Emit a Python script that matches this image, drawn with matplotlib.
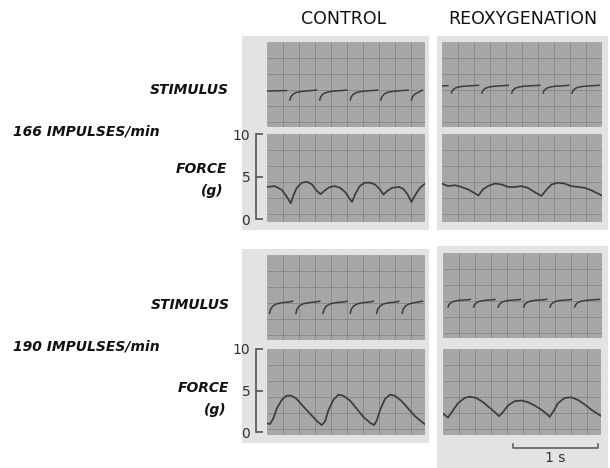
import matplotlib
matplotlib.use("Agg")
import matplotlib.pyplot as plt
import matplotlib.transforms as mtransforms
from matplotlib.patches import Rectangle
from matplotlib.collections import LineCollection

# ---------------- data ----------------
COLUMNS = ["CONTROL", "REOXYGENATION"]
RATES = ["166 IMPULSES/min", "190 IMPULSES/min"]
FORCE_TICKS = [0, 5, 10]
FORCE_TICK_LABELS = ["0", "5", "10"]

# force traces: time (s) and force (g)
F166_CTRL_T = [0.00, 0.09, 0.17, 0.23, 0.28, 0.31, 0.35, 0.41, 0.47, 0.53, 0.58, 0.63,
               0.68, 0.74, 0.80, 0.86, 0.92, 0.96, 1.00, 1.04, 1.09, 1.15, 1.21, 1.27,
               1.33, 1.37, 1.41, 1.47, 1.55, 1.60, 1.65, 1.70, 1.74, 1.80, 1.86]
F166_CTRL_G = [3.8, 3.9, 3.5, 2.7, 1.9, 2.8, 3.7, 4.3, 4.4, 4.1, 3.4, 2.95,
               3.4, 3.8, 3.9, 3.7, 3.2, 2.6, 2.05, 3.0, 3.9, 4.3, 4.3, 4.1,
               3.5, 2.9, 3.3, 3.7, 3.8, 3.6, 3.0, 2.05, 2.8, 3.7, 4.2]

F166_REOX_T = [0.00, 0.07, 0.15, 0.23, 0.31, 0.38, 0.43, 0.48, 0.54, 0.62, 0.70, 0.78,
               0.86, 0.93, 1.01, 1.09, 1.17, 1.23, 1.29, 1.37, 1.44, 1.52, 1.60, 1.68,
               1.76, 1.82, 1.88]
F166_REOX_G = [4.2, 3.9, 4.0, 3.8, 3.5, 3.1, 2.8, 3.5, 3.9, 4.2, 4.1, 3.8,
               3.8, 3.9, 3.7, 3.2, 2.75, 3.5, 4.1, 4.3, 4.2, 3.9, 3.8, 3.7,
               3.4, 3.1, 2.8]

F190_CTRL_T = [0.00, 0.035, 0.075, 0.114, 0.173, 0.231, 0.29, 0.349, 0.427, 0.506, 0.584,
               0.643, 0.682, 0.722, 0.78, 0.839, 0.898, 0.976, 1.055, 1.133, 1.212,
               1.259, 1.29, 1.329, 1.388, 1.447, 1.506, 1.584, 1.663, 1.741, 1.82, 1.86]
F190_CTRL_G = [1.09, 1.01, 1.68, 2.85, 3.90, 4.41, 4.41, 4.02, 3.12, 2.26, 1.40,
               0.89, 1.29, 2.65, 3.90, 4.53, 4.41, 3.83, 2.85, 1.87, 1.17,
               0.89, 1.40, 2.65, 4.02, 4.53, 4.41, 3.75, 2.85, 1.95, 1.29, 0.97]

F190_REOX_T = [0.00, 0.059, 0.118, 0.176, 0.255, 0.314, 0.392, 0.471, 0.549, 0.608,
               0.659, 0.706, 0.765, 0.843, 0.922, 1.0, 1.078, 1.157, 1.216, 1.255,
               1.294, 1.353, 1.431, 1.51, 1.588, 1.667, 1.745, 1.804, 1.863]
F190_REOX_G = [2.26, 1.79, 2.65, 3.51, 4.14, 4.29, 4.14, 3.63, 2.97, 2.46,
               1.95, 2.46, 3.24, 3.75, 3.83, 3.63, 3.24, 2.73, 2.26, 1.87,
               2.46, 3.51, 4.14, 4.22, 3.90, 3.36, 2.73, 2.34, 1.95]

# stimulus marks: pulse times (s)
S166_CTRL_PULSES = [0.27, 0.62, 0.98, 1.34, 1.70]
S166_REOX_PULSES = [0.11, 0.47, 0.82, 1.19, 1.53]
S190_CTRL_PULSES = [0.03, 0.34, 0.66, 0.98, 1.29, 1.59]
S190_REOX_PULSES = [0.06, 0.36, 0.65, 0.95, 1.26, 1.55]
# stimulus baseline level and deflection depth (chart units)
S166_CTRL_LEVEL, S166_CTRL_DEPTH = 36.0, 9.0
S166_REOX_LEVEL, S166_REOX_DEPTH = 41.0, 7.0
S190_CTRL_LEVEL, S190_CTRL_DEPTH = 37.7, 11.0
S190_REOX_LEVEL, S190_REOX_DEPTH = 38.0, 7.0
# shape of one stimulus mark: time after pulse (s), fraction of depth below level
STIM_SHAPE_T = [0.0, 0.012, 0.04, 0.08, 0.14, 0.24]
STIM_SHAPE_F = [1.0, 0.63, 0.33, 0.15, 0.04, -0.04]
STIM_END_F = -0.10

SCALE_BAR_S = [0.82, 1.82]

# ---------------- layout ----------------
W, H = 610, 468
fig = plt.figure(figsize=(W / 100, H / 100), dpi=100)
fig.patch.set_facecolor("white")

CARD = "#e3e3e3"
PAPER = "#a9a9a9"
MAJOR = "#858585"
MINOR = "#a0a0a0"
INK = "#3c3c3c"


def frect(x0, y0, x1, y1):
    return [x0 / W, 1 - y1 / H, (x1 - x0) / W, (y1 - y0) / H]


def card(x0, y0, x1, y1):
    r = Rectangle((x0 / W, 1 - y1 / H), (x1 - x0) / W, (y1 - y0) / H,
                  transform=fig.transFigure, facecolor=CARD, edgecolor="none", zorder=-5)
    fig.patches.append(r)


card(242, 36, 429, 230)
card(437, 36, 608, 230)
card(242, 249, 429, 443)
card(437, 246, 608, 468)


def paper(ax, wpx, hpx):
    ax.set_facecolor(PAPER)
    for s in ax.spines.values():
        s.set_visible(False)
    ax.set_xticks([])
    ax.set_yticks([])
    step = 3.2
    minor, major = [], []
    k = 1
    while k * step < wpx:
        f = k * step / wpx
        (major if k % 5 == 0 else minor).append([(f, 0), (f, 1)])
        k += 1
    k = 1
    while k * step < hpx:
        f = 1 - k * step / hpx
        (major if k % 5 == 0 else minor).append([(0, f), (1, f)])
        k += 1
    ax.add_collection(LineCollection(minor, colors=MINOR, linewidths=0.3,
                                     transform=ax.transAxes, zorder=0.5))
    ax.add_collection(LineCollection(major, colors=MAJOR, linewidths=0.6,
                                     transform=ax.transAxes, zorder=0.6))


def stim_axes(x0, y0, x1, y1, pulses, level, depth):
    ax = fig.add_axes(frect(x0, y0, x1, y1))
    tmax = (x1 - x0) / 85.0
    paper(ax, x1 - x0, y1 - y0)
    gap = 0.04
    if pulses[0] - gap > 0.03:
        ax.plot([0.0, pulses[0] - gap], [level, level + depth * 0.05], color=INK, lw=1.1, zorder=3)
    for i, p in enumerate(pulses):
        end = pulses[i + 1] - gap if i + 1 < len(pulses) else tmax - 0.03
        ts = [p + s for s in STIM_SHAPE_T if p + s < end]
        vs = [level - depth * f for s, f in zip(STIM_SHAPE_T, STIM_SHAPE_F) if p + s < end]
        ts.append(end)
        vs.append(level - depth * STIM_END_F)
        ax.plot(ts, vs, color=INK, lw=1.1, zorder=3)
    ax.set_xlim(0, tmax)
    ax.set_ylim(0, y1 - y0)
    return ax


def force_axes(x0, y0, x1, y1, t, g, scale):
    ax = fig.add_axes(frect(x0, y0, x1, y1))
    paper(ax, x1 - x0, y1 - y0)
    ax.plot(t, g, color=INK, lw=1.25, zorder=3)
    ax.set_xlim(0, (x1 - x0) / 85.0)
    ax.set_ylim(-0.3, 10.0)
    if scale:
        sp = ax.spines["left"]
        sp.set_visible(True)
        sp.set_position(("outward", 8))
        sp.set_bounds(0, 10)
        sp.set_color("#555555")
        sp.set_linewidth(1.2)
        ax.set_yticks(FORCE_TICKS)
        ax.set_yticklabels(FORCE_TICK_LABELS)
        ax.tick_params(axis="y", direction="in", length=5, width=1.2, color="#555555",
                       pad=4, labelsize=10, labelcolor="#333333")
    return ax


# top group: 166 impulses/min
stim_axes(267, 42, 425, 127, S166_CTRL_PULSES, S166_CTRL_LEVEL, S166_CTRL_DEPTH)
force_axes(267, 134, 425, 222, F166_CTRL_T, F166_CTRL_G, True)
stim_axes(442, 42, 602, 127, S166_REOX_PULSES, S166_REOX_LEVEL, S166_REOX_DEPTH)
force_axes(442, 134, 602, 222, F166_REOX_T, F166_REOX_G, False)

# bottom group: 190 impulses/min
stim_axes(267, 255, 425, 340, S190_CTRL_PULSES, S190_CTRL_LEVEL, S190_CTRL_DEPTH)
force_axes(267, 349, 425, 435, F190_CTRL_T, F190_CTRL_G, True)
stim_axes(443, 253, 602, 338, S190_REOX_PULSES, S190_REOX_LEVEL, S190_REOX_DEPTH)
axr = force_axes(443, 349, 601, 435, F190_REOX_T, F190_REOX_G, False)

# 1 s scale bar
tr = mtransforms.blended_transform_factory(axr.transData, axr.transAxes)
yb = -13.0 / 86.0
yt = -9.0 / 86.0
axr.plot([SCALE_BAR_S[0], SCALE_BAR_S[0], SCALE_BAR_S[1], SCALE_BAR_S[1]],
         [yt, yb, yb, yt], color="#555555", lw=1.1, transform=tr, clip_on=False)
axr.text((SCALE_BAR_S[0] + SCALE_BAR_S[1]) / 2, -23.5 / 86.0, "1 s", transform=tr,
         ha="center", va="center", fontsize=10, color="#333333")

# ---------------- text ----------------
def ftext(x, y, s, **kw):
    fig.text(x / W, 1 - y / H, s, **kw)


title_kw = dict(fontsize=12.5, color="#111111", family="DejaVu Sans", va="center", ha="center")
ftext(344, 19, COLUMNS[0], **title_kw)
ftext(523, 19, COLUMNS[1], **title_kw)

lab = dict(fontsize=10, fontweight="bold", style="italic", color="#111111", va="center")
ftext(229, 90, "STIMULUS", ha="right", **lab)
ftext(13, 131.5, RATES[0], ha="left", **lab)
ftext(227, 169, "FORCE", ha="right", **lab)
ftext(224, 190.5, "(g)", ha="right", **lab)

ftext(230, 305, "STIMULUS", ha="right", **lab)
ftext(13, 346.5, RATES[1], ha="left", **lab)
ftext(229, 388, "FORCE", ha="right", **lab)
ftext(227, 410, "(g)", ha="right", **lab)

fig.savefig("out.png", dpi=100, facecolor="white")
